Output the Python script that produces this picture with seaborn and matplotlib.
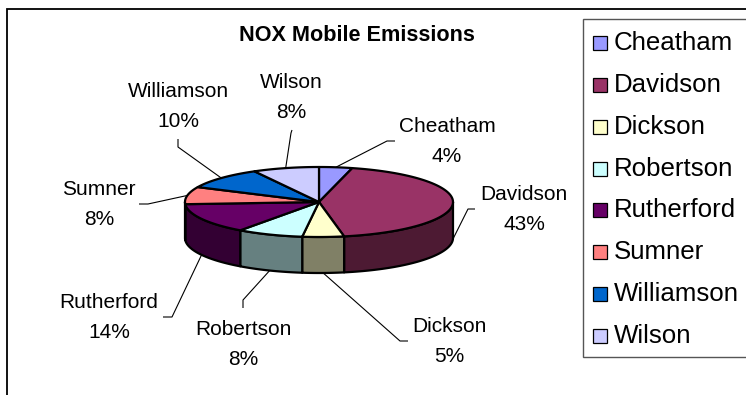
import numpy as np
import matplotlib
matplotlib.use("Agg")
import matplotlib.pyplot as plt
from matplotlib.patches import Polygon, Rectangle
import seaborn as sns

# NOX mobile emissions share by county (percent)
counties = ["Cheatham", "Davidson", "Dickson", "Robertson",
            "Rutherford", "Sumner", "Williamson", "Wilson"]
shares = [4, 43, 5, 8, 14, 8, 10, 8]
slice_colors = ["#9999FF", "#993366", "#FFFFCC", "#CCFFFF",
                "#660066", "#FF8080", "#0066CC", "#CCCCFF"]
title = "NOX Mobile Emissions"

sns.set_theme(style="white")
plt.rcParams["font.family"] = ["Liberation Sans", "DejaVu Sans"]
palette = sns.color_palette(slice_colors)

W, H = 746, 395
fig = plt.figure(figsize=(W / 100, H / 100), dpi=100)
ax = fig.add_axes([0, 0, 1, 1])
ax.set_xlim(0, W)
ax.set_ylim(H, 0)
ax.axis("off")

# pie geometry (pixels): centre, radii of the tilted disc, wall height
cx, cy, rx, ry, depth = 319, 202, 134, 35, 36


def ellipse_pts(a_from, a_to, dy=0.0, n=80):
    t = np.radians(np.linspace(a_from, a_to, n))
    return np.column_stack([cx + rx * np.cos(t), cy - ry * np.sin(t) + dy])


fractions = np.asarray(shares, dtype=float) / np.sum(shares)
ends = 90 - 360 * np.cumsum(fractions)
starts = np.concatenate([[90], ends[:-1]])

edge_kw = dict(edgecolor="black", linewidth=1.6, joinstyle="round")

# outer walls of the front half
for s, e, col in zip(starts, ends, palette):
    hi, lo = min(s, 0), max(e, -180)
    if hi > lo:
        top = ellipse_pts(hi, lo)
        bot = ellipse_pts(lo, hi, dy=depth)
        side = tuple(np.clip(np.array(col) * 0.5, 0, 1))
        ax.add_patch(Polygon(np.vstack([top, bot]), closed=True,
                             facecolor=side, zorder=1, **edge_kw))

# top faces
for s, e, col in zip(starts, ends, palette):
    pts = np.vstack([[cx, cy], ellipse_pts(s, e)])
    ax.add_patch(Polygon(pts, closed=True, facecolor=col, zorder=2, **edge_kw))

# data labels: name baseline position, leader start and elbow
label_pos = [(447, 132), (524, 200), (449, 332), (243, 335),
             (109, 308), (99, 195), (178, 97), (291, 88)]
leader_start = [(395, 141), (475, 209), (408, 341), (243, 308),
                (163, 317), (139, 204), (178, 139), (292, 130)]
leader_elbow = [(387, 141), (468, 209), (400, 341), (243, 300),
                (172, 317), (148, 204), (178, 147), (291, 133)]

label_fs = 15.0
for name, frac, s, e, (lx, ly), p0, p1 in zip(
        counties, fractions, starts, ends, label_pos, leader_start, leader_elbow):
    mid = np.radians((s + e) / 2)
    axp = cx + rx * np.cos(mid)
    ayp = cy - ry * np.sin(mid) + (depth if np.sin(mid) < 0 else 0)
    ax.plot([p0[0], p1[0], axp], [p0[1], p1[1], ayp], color="black",
            lw=0.8, zorder=3, solid_capstyle="butt")
    ax.text(lx, ly, name, ha="center", va="baseline", fontsize=label_fs,
            color="black", zorder=4)
    ax.text(lx, ly + 30, f"{frac * 100:.0f}%", ha="center", va="baseline",
            fontsize=label_fs, color="black", zorder=4)

ax.text(357, 41, title, ha="center", va="baseline", fontsize=15.6,
        fontweight="bold", color="black")

# chart frame
ax.plot([7, 7, W + 10], [H + 10, 9, 9], color="black", lw=1.3,
        solid_joinstyle="miter", clip_on=False)

# legend box (runs past the right edge)
ax.add_patch(Rectangle((583, 19), 200, 357 - 19, facecolor="white",
                       edgecolor="#555555", linewidth=1.0, zorder=5,
                       clip_on=False))
for i, (name, col) in enumerate(zip(counties, palette)):
    base = 50 + i * 41.85
    ax.add_patch(Rectangle((593, base - 14), 14, 14, facecolor=col,
                           edgecolor="black", linewidth=0.9, zorder=6))
    ax.text(614, base, name, ha="left", va="baseline", fontsize=18.6,
            color="black", zorder=6)

fig.savefig("out.png", dpi=100, facecolor="white")
